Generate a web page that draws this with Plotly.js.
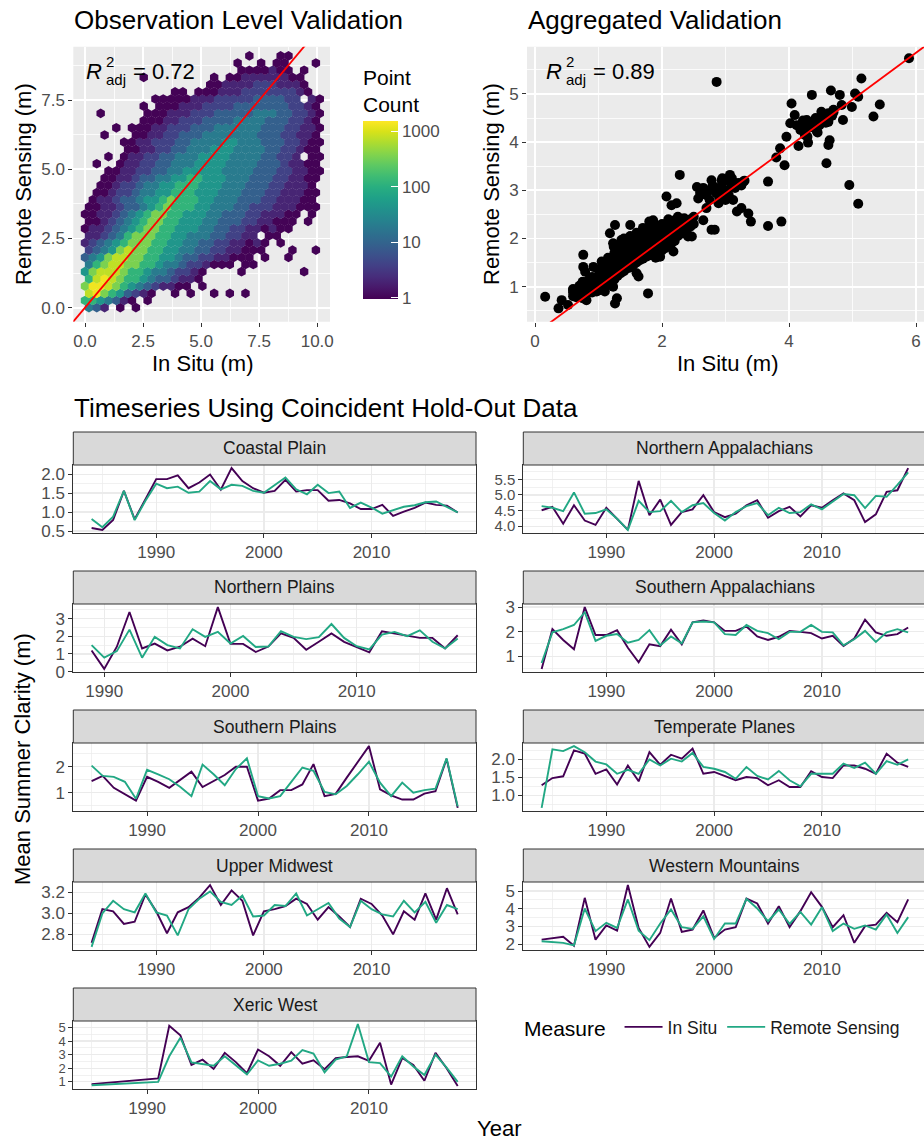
<!DOCTYPE html>
<html>
<head>
<meta charset="utf-8">
<script src="https://cdn.plot.ly/plotly-3.0.1.min.js"></script>
<style>
  html, body { margin: 0; padding: 0; background: #ffffff; }
  #chart { width: 924px; height: 1141px; }
</style>
</head>
<body>
<div id="chart"></div>
<script>
// ---------------- Observation level hexbin ----------------
// One string per hex row (bottom row first); one character per hex cell.
// '.' = empty cell, '1'..'9','A' = point-count class (see hexLevelCounts).
const hexRows = [
  "542.1.1",
  "7765421.1",
  "9A8764321..1.1..1.1.1",
  "8AA98765432211.1",
  "79A987765443221",
  "6899987765543321....1.......1",
  "5789988776554332111.11",
  "4568998877665443322111.1..1",
  "34568988776655443322111...1..1",
  "234567888776655443322121.1",
  "2234578887766555443322.11",
  "122345678877666554433221211",
  "112345678877666554443322111.1",
  "1122345678877666554443322211.1",
  "112234456787776655544333222111",
  ".12234456678777665554443322211",
  ".11233455667776665554443322211",
  "..1123345566777666555444332221",
  "..1122344556677666555444332211",
  "...1122334455666665555444332211",
  ".1..12233445556666555544432211",
  "...1.12233445556666555544332.11",
  ".....1122334455566655554433211",
  ".....11223334455556655544433211",
  "..1...112233444555555544433221",
  "....1.1112233344455555544433221",
  ".......11122333444455554443321",
  "..1.....11122233344444555443321",
  ".......1.111222333344444443321",
  ".........1111122233333444433.21",
  "...........11.111222333333321",
  "................1122223332221",
  ".......1........1.1122222211",
  "....................1111211.1",
  "...................1..1.11...1",
  ".....................1...11"
];
const hexLevelCounts = { '1': 1, '2': 2, '3': 4, '4': 9, '5': 20, '6': 45, '7': 120, '8': 350, '9': 750, 'A': 1300 };
const hexBinWidth = 0.337;   // in-situ bin width (m)
const hexRowStep = 0.26;     // remote-sensing distance between hex rows (m)
const hexOddShift = 0.17;    // horizontal shift of every other row (m)
const obsR2 = "0.72";
const obsFit = { intercept: 0, slope: 1 };

// ---------------- Aggregated validation points ----------------
const aggInSitu = [
  0.16,0.37,0.42,0.52,0.60,0.63,0.76,0.76,0.79,0.81,0.87,0.92,0.97,1.05,1.10,1.18,1.23,1.26,1.24,1.23,
  1.26,1.29,1.36,1.50,1.52,1.60,1.63,1.78,1.86,1.97,2.07,2.15,2.23,2.28,2.18,2.41,2.47,2.55,2.57,2.65,
  2.70,2.78,2.83,2.86,2.78,2.94,2.89,2.97,3.02,3.07,3.12,3.18,3.25,3.28,3.36,3.40,3.67,3.67,3.88,3.80,
  3.86,3.93,3.96,4.04,4.02,4.09,4.15,4.20,4.28,4.29,4.30,4.36,4.38,4.44,4.48,4.51,4.59,4.62,4.64,4.62,
  4.65,4.66,4.70,4.80,4.83,4.85,4.95,4.99,5.04,5.09,5.09,5.14,5.33,5.43,5.89,
  0.60,0.60,0.60,0.65,0.65,0.70,0.70,0.70,0.75,0.75,0.75,0.80,0.80,0.80,0.85,0.85,0.85,
  0.90,0.90,0.90,0.90,0.95,0.95,0.95,1.00,1.00,1.00,1.00,1.00,1.05,1.05,1.05,1.05,
  1.10,1.10,1.10,1.10,1.10,1.15,1.15,1.15,1.15,1.15,1.20,1.20,1.20,1.20,1.20,
  1.25,1.25,1.25,1.25,1.25,1.30,1.30,1.30,1.30,1.30,1.30,1.35,1.35,1.35,1.35,1.35,
  1.40,1.40,1.40,1.40,1.40,1.40,1.45,1.45,1.45,1.45,1.45,1.50,1.50,1.50,1.50,1.50,1.50,
  1.55,1.55,1.55,1.55,1.55,1.60,1.60,1.60,1.60,1.60,1.60,1.65,1.65,1.65,1.65,1.65,
  1.70,1.70,1.70,1.70,1.70,1.70,1.75,1.75,1.75,1.75,1.75,1.80,1.80,1.80,1.80,1.80,1.80,
  1.85,1.85,1.85,1.85,1.85,1.90,1.90,1.90,1.90,1.90,1.90,1.95,1.95,1.95,1.95,1.95,
  2.00,2.00,2.00,2.00,2.00,2.05,2.05,2.05,2.05,2.10,2.10,2.10,2.10,2.10,2.15,2.15,2.15,2.15,
  2.20,2.20,2.20,2.20,2.25,2.25,2.25,2.25,2.30,2.30,2.30,2.35,2.35,2.35,2.40,2.40,2.45,2.45,2.50,2.50,
  2.60,2.65,2.70,2.75,2.80,2.85,2.90,2.95,3.00,3.05,3.10,3.15,3.20,3.25,3.30,2.90,3.00,3.05,2.95,3.10,2.75,
  4.12,4.18,4.22,4.32,4.35,4.40,4.42,4.50,4.55,4.58,4.62,4.68,4.70,4.25,4.45
];
const aggRemote = [
  0.79,0.55,0.72,0.62,0.93,0.83,1.66,1.41,1.31,0.72,1.00,1.41,0.90,1.52,0.90,2.11,1.90,2.28,1.83,1.00,
  0.65,0.76,1.97,2.28,1.97,1.28,1.21,0.86,2.38,1.62,2.87,2.69,2.73,3.32,1.73,2.04,2.04,3.07,2.83,2.38,
  2.63,2.18,2.18,5.25,3.21,3.21,2.73,2.87,2.94,3.32,2.80,2.56,2.63,3.18,2.52,2.35,3.18,2.26,2.35,3.68,
  3.87,3.52,4.11,4.80,4.39,4.56,3.92,4.35,4.46,4.11,3.99,4.98,4.42,4.22,4.35,4.63,3.56,3.94,4.04,4.42,
  4.53,5.07,4.67,4.98,4.77,4.46,3.11,4.73,5.01,4.94,2.72,5.32,4.53,4.78,5.74,
  0.80,0.88,0.95,0.78,0.92,0.82,0.90,1.02,0.76,0.95,1.10,0.85,0.98,1.05,0.90,1.02,1.15,
  0.88,0.97,1.08,1.20,0.95,1.05,1.12,0.92,1.00,1.10,1.22,1.35,1.02,1.15,1.28,1.40,
  0.98,1.08,1.20,1.32,1.45,1.05,1.18,1.30,1.50,1.60,1.12,1.25,1.38,1.48,1.58,
  1.15,1.30,1.42,1.55,1.70,1.22,1.35,1.45,1.62,1.75,1.85,1.28,1.40,1.52,1.68,1.80,
  1.32,1.45,1.58,1.70,1.88,2.00,1.38,1.50,1.62,1.75,1.90,1.40,1.55,1.68,1.80,1.95,2.05,
  1.45,1.58,1.72,1.85,2.00,1.50,1.62,1.75,1.88,2.02,2.12,1.55,1.68,1.80,1.92,2.05,
  1.58,1.70,1.85,1.97,2.10,2.22,1.62,1.75,1.88,2.00,2.15,1.65,1.78,1.92,2.05,2.20,2.35,
  1.70,1.82,1.95,2.08,2.22,1.60,1.75,1.88,2.00,2.12,2.28,1.70,1.85,1.95,2.10,2.25,
  1.75,1.90,2.02,2.15,2.30,1.80,1.95,2.08,2.20,1.85,2.00,2.12,2.25,2.40,1.90,2.05,2.18,2.32,
  1.95,2.10,2.22,2.38,2.05,2.15,2.30,2.45,2.10,2.25,2.40,2.12,2.28,2.42,2.20,2.35,2.25,2.40,2.30,2.45,
  2.95,3.05,2.90,3.00,3.10,2.95,3.05,3.15,3.00,3.20,3.10,3.05,3.15,3.10,3.20,2.85,2.80,2.90,3.25,3.25,2.80,
  4.35,4.25,4.45,4.30,4.40,4.30,4.50,4.45,4.55,4.40,4.60,4.55,4.62,4.15,4.20
];
const aggR2 = "0.89";
const aggFit = { intercept: 0.023, slope: 0.972 };

// ---------------- Regional time series ----------------
const years1984 = [1984,1985,1986,1987,1988,1989,1990,1991,1992,1993,1994,1995,1996,1997,1998,1999,2000,2001,
  2002,2003,2004,2005,2006,2007,2008,2009,2010,2011,2012,2013,2014,2015,2016,2017,2018];
const years1985 = [1985,1986,1987,1988,1989,1990,1991,1992,1993,1994,1995,1996,1997,1998,1999,2000,2001,
  2002,2003,2004,2005,2006,2007,2008,2009,2010,2011,2012,2013,2014,2015,2016,2017,2018];
const years1989 = [1989,1990,1991,1992,1993,1994,1995,1996,1997,1998,1999,2000,2001,
  2002,2003,2004,2005,2006,2007,2008,2009,2010,2011,2012,2013,2014,2015,2016,2017,2018];
const yearsXeric = [1985,1991,1992,1993,1994,1995,1996,1997,1998,1999,2000,2001,
  2002,2003,2004,2005,2006,2007,2008,2009,2010,2011,2012,2013,2014,2015,2016,2017,2018];

const coastalInSitu = [0.58,0.53,0.79,1.56,0.81,1.34,1.87,1.87,1.97,1.63,1.78,1.99,1.59,2.16,1.82,1.63,1.51,1.56,
  1.85,1.54,1.58,1.58,1.30,1.32,1.23,1.08,1.08,1.19,0.90,1.01,1.11,1.25,1.19,1.17,0.99];
const coastalRemote = [0.82,0.60,0.88,1.56,0.79,1.30,1.75,1.63,1.67,1.51,1.54,1.82,1.60,1.72,1.69,1.56,1.51,1.71,
  1.91,1.60,1.47,1.72,1.50,1.54,1.11,1.25,1.12,0.96,1.05,1.14,1.18,1.26,1.28,1.14,0.99];
const nAppInSitu = [4.51,4.62,4.08,4.67,4.18,4.04,4.59,4.24,3.88,5.45,4.35,4.85,4.04,4.45,4.54,4.99,4.45,4.29,
  4.40,4.67,4.83,4.27,4.48,4.62,4.31,4.67,4.59,4.83,5.05,4.83,4.13,4.38,5.10,5.15,5.86];
const nAppRemote = [4.64,4.59,4.48,5.08,4.40,4.42,4.54,4.24,3.88,4.81,4.45,4.48,4.81,4.45,4.67,4.74,4.42,4.18,
  4.45,4.64,4.74,4.35,4.59,4.42,4.45,4.70,4.54,4.78,5.03,4.99,4.58,4.97,4.94,5.32,5.72];
const nPlainsInSitu = [1.20,0.15,1.41,3.38,1.31,1.59,1.20,1.41,1.87,1.44,3.66,1.57,1.57,1.11,1.42,2.17,1.91,1.24,
  1.69,2.16,1.69,1.41,1.09,2.29,2.16,2.01,1.91,1.91,1.31,2.06];
const nPlainsRemote = [1.50,0.79,1.16,2.38,0.79,1.97,1.50,1.31,2.40,1.97,2.25,1.59,2.02,1.39,1.42,2.29,1.97,1.84,
  1.95,2.70,1.91,1.44,1.26,2.10,2.25,2.01,2.34,1.69,1.31,1.87];
const sAppInSitu = [0.48,2.10,1.66,1.28,3.00,1.86,1.86,2.06,1.34,0.75,1.48,1.41,2.08,1.48,2.38,2.45,2.38,2.03,
  2.03,2.21,1.80,1.66,1.79,2.03,1.99,1.94,1.72,1.83,1.41,1.72,2.49,1.97,1.83,1.90,2.17];
const sAppRemote = [0.72,1.97,2.10,2.27,2.79,1.62,1.83,1.90,1.55,1.66,2.06,1.44,1.80,1.52,2.38,2.41,2.38,1.90,
  1.86,2.27,2.03,1.94,1.69,1.99,1.99,2.27,1.99,1.97,1.44,1.69,2.03,1.58,1.97,2.10,1.97];
const sPlainsInSitu = [1.45,1.65,1.19,0.94,0.70,1.61,1.42,1.19,1.49,1.81,1.22,1.45,1.68,2.00,2.00,0.70,0.78,
  1.10,1.10,1.32,2.10,0.87,0.96,1.58,2.17,2.79,1.13,0.90,0.74,0.74,0.97,1.06,2.30,0.42];
const sPlainsRemote = [2.04,1.65,1.61,1.42,0.77,1.88,1.71,1.52,1.22,0.87,2.08,1.71,1.29,1.91,2.32,0.87,0.78,
  0.87,1.42,1.97,1.84,1.03,0.94,1.26,1.71,2.19,1.39,0.87,1.39,1.00,1.10,1.16,2.32,0.48];
const tempInSitu = [1.28,1.48,1.53,2.25,2.16,1.60,1.72,1.30,1.83,1.39,2.20,1.85,2.13,2.02,2.30,1.60,1.65,1.53,
  1.42,1.51,1.48,1.28,1.42,1.23,1.23,1.67,1.51,1.48,1.83,1.83,1.74,1.60,2.16,1.91,1.79];
const tempRemote = [0.65,2.28,2.23,2.37,2.20,1.94,1.86,1.60,1.71,1.60,2.00,1.83,2.02,1.94,2.18,1.79,1.74,1.65,
  1.46,1.79,1.54,1.44,1.68,1.42,1.25,1.60,1.60,1.60,1.88,1.76,1.91,1.60,1.95,1.85,2.00];
const umInSitu = [2.72,3.04,3.02,2.90,2.92,3.18,3.02,2.81,3.01,3.06,3.15,3.27,3.08,3.22,3.12,2.79,3.02,3.04,
  3.07,3.14,3.09,2.94,3.06,2.97,2.87,3.14,3.09,2.98,2.80,3.02,2.94,3.19,2.94,3.24,2.99];
const umRemote = [2.68,3.00,3.12,3.04,3.01,3.19,3.01,2.98,2.79,3.04,3.14,3.21,3.11,3.08,3.17,2.97,2.98,3.08,
  3.07,3.19,2.98,3.04,3.10,2.95,2.87,3.12,3.04,2.99,2.97,3.12,3.01,3.11,2.91,3.08,3.04];
const wmInSitu = [2.26,2.32,2.42,1.92,4.62,2.26,3.06,2.77,5.34,2.92,1.85,2.64,4.58,2.70,2.83,3.91,2.36,2.83,
  2.96,4.58,4.30,3.17,4.15,2.96,3.87,4.94,4.11,2.96,3.64,2.08,3.02,3.11,3.77,3.25,4.53];
const wmRemote = [2.17,2.11,2.08,1.94,4.02,2.74,3.21,2.92,4.53,2.77,2.23,3.17,3.96,2.96,2.87,3.58,2.30,3.17,
  3.17,4.57,4.02,3.30,3.96,3.15,3.83,3.11,4.09,2.74,3.17,2.87,3.06,2.83,3.68,2.64,3.53];
const xericInSitu = [0.83,1.25,5.13,4.43,2.25,2.63,1.95,3.13,2.45,1.63,3.38,2.88,2.18,3.18,2.33,2.58,1.93,2.75,
  2.83,2.88,2.55,3.88,0.80,2.75,2.25,1.08,3.13,2.00,0.70];
const xericRemote = [0.75,1.00,2.88,4.25,2.43,2.33,2.18,2.88,2.25,1.55,2.58,2.18,2.33,2.55,3.33,3.08,1.70,2.63,
  2.88,5.25,2.45,2.38,1.38,2.88,2.13,1.50,3.00,2.05,1.00];

const regionNames = ["Coastal Plain", "Northern Appalachians", "Northern Plains", "Southern Appalachians",
  "Southern Plains", "Temperate Planes", "Upper Midwest", "Western Mountains", "Xeric West"];
const regionYears = [years1984, years1984, years1989, years1984, years1985, years1984, years1984, years1984, yearsXeric];
const regionInSitu = [coastalInSitu, nAppInSitu, nPlainsInSitu, sAppInSitu, sPlainsInSitu, tempInSitu, umInSitu, wmInSitu, xericInSitu];
const regionRemote = [coastalRemote, nAppRemote, nPlainsRemote, sAppRemote, sPlainsRemote, tempRemote, umRemote, wmRemote, xericRemote];
// y-axis break start and step per region
const regionTick0 = [0.5, 4.0, 0, 1, 1, 1.0, 2.8, 2, 1];
const regionTickStep = [0.5, 0.5, 1, 1, 1, 0.5, 0.2, 1, 1];
const regionTickFormat = [".1f", ".1f", "d", "d", "d", ".1f", ".1f", "d", "d"];
const measureNames = ["In Situ", "Remote Sensing"];

// ---------------- Page geometry and styles ----------------
const W = 924, H = 1141;
const fx = v => v / W;
const fy = v => 1 - v / H;
const FONT = "Liberation Sans, Arial, Helvetica, sans-serif";
const PURPLE = "#440154", GREEN = "#22a884";
const TICK_GRAY = "#4d4d4d", DARK = "#333333";

const colEdges = [[73.3, 476], [523.3, 926.5]];
const facetTop0 = 432, facetRowStep = 139, stripH = 33, facetH = 101;
const panelH = facetH - stripH;

const traces = [];
const shapes = [];
const annotations = [];

function ann(text, x, y, opts) {
  annotations.push(Object.assign({
    text: text, xref: "paper", yref: "paper", x: fx(x), y: fy(y),
    xanchor: "center", yanchor: "middle", showarrow: false,
    font: { family: FONT, size: 22, color: "#000000" }
  }, opts || {}));
}

// ----- hexbin trace -----
const hx = [], hy = [], hc = [], hn = [];
hexRows.forEach((row, j) => {
  for (let i = 0; i < row.length; i++) {
    const ch = row[i];
    if (ch === '.') continue;
    const n = hexLevelCounts[ch];
    hx.push(i * hexBinWidth + (j % 2 === 0 ? hexOddShift : 0));
    hy.push(j * hexRowStep);
    hc.push(Math.log10(n));
    hn.push(n);
  }
});
traces.push({
  type: "scatter", mode: "markers", x: hx, y: hy, xaxis: "x", yaxis: "y",
  showlegend: false, customdata: hn,
  marker: {
    symbol: "hexagon", size: 9.7, color: hc, colorscale: "Viridis", cmin: -0.02, cmax: 3.18,
    line: { width: 0 },
    colorbar: {
      x: fx(363), xanchor: "left", y: fy(66), yanchor: "top",
      len: 233, lenmode: "pixels", thickness: 35, thicknessmode: "pixels",
      xpad: 0, ypad: 0, outlinewidth: 0,
      tickmode: "array", tickvals: [0, 1, 2, 3], ticktext: ["1", "10", "100", "1000"],
      ticks: "inside", ticklen: 7, tickcolor: "#ffffff", tickwidth: 1,
      tickfont: { family: FONT, size: 17, color: TICK_GRAY },
      title: { text: "Point<br>Count", side: "top", font: { family: FONT, size: 21, color: "#000000" } }
    }
  }
});
const obsLineX = [-1, 11];
traces.push({
  type: "scatter", mode: "lines", xaxis: "x", yaxis: "y", showlegend: false,
  x: obsLineX, y: obsLineX.map(v => obsFit.intercept + obsFit.slope * v),
  line: { color: "#ff0000", width: 1.8 }
});

// ----- aggregated scatter -----
traces.push({
  type: "scatter", mode: "markers", x: aggInSitu, y: aggRemote, xaxis: "x2", yaxis: "y2",
  showlegend: false, marker: { color: "#000000", size: 10, line: { width: 0 } }
});
const aggLineX = [-0.5, 6.5];
traces.push({
  type: "scatter", mode: "lines", xaxis: "x2", yaxis: "y2", showlegend: false,
  x: aggLineX, y: aggLineX.map(v => aggFit.intercept + aggFit.slope * v),
  line: { color: "#ff0000", width: 1.8 }
});

// ----- layout axes for the two validation panels -----
const topY0 = 46.7, topY1 = 321.7;
const layout = {
  width: W, height: H,
  margin: { l: 0, r: 0, t: 0, b: 0 },
  paper_bgcolor: "#ffffff",
  plot_bgcolor: "rgba(0,0,0,0)",
  font: { family: FONT, color: "#000000" },
  showlegend: true,
  legend: {
    orientation: "h", x: fx(522), xanchor: "left", y: fy(1028), yanchor: "middle",
    bgcolor: "rgba(0,0,0,0)", font: { family: FONT, size: 17.5, color: "#1a1a1a" },
    title: { text: "Measure ", side: "left", font: { family: FONT, size: 21, color: "#000000" } },
    itemwidth: 38, tracegroupgap: 0
  }
};

function topAxis(domain, range, tick0, dtick, fmt, minorStep) {
  return {
    domain: domain, range: range, autorange: false,
    tickmode: "linear", tick0: tick0, dtick: dtick, tickformat: fmt,
    ticks: "outside", ticklen: 4, tickwidth: 1, tickcolor: DARK,
    tickfont: { family: FONT, size: 17, color: TICK_GRAY },
    showgrid: true, gridcolor: "#ffffff", gridwidth: 1.7,
    minor: { tick0: tick0, dtick: minorStep, showgrid: true, gridcolor: "#ffffff", gridwidth: 0.8 },
    zeroline: false, showline: false, fixedrange: true
  };
}
layout.xaxis = topAxis([fx(73.3), fx(330)], [-0.504, 10.55], 0, 2.5, ".1f", 1.25);
layout.yaxis = topAxis([fy(topY1), fy(topY0)], [-0.506, 9.43], 0, 2.5, ".1f", 1.25);
layout.xaxis2 = topAxis([fx(527), 1], [-0.126, 6.126], 0, 2, "d", 1);
layout.yaxis2 = topAxis([fy(topY1), fy(topY0)], [0.273, 5.98], 1, 1, "d", 0.5);
layout.xaxis.anchor = "y"; layout.yaxis.anchor = "x";
layout.xaxis2.anchor = "y2"; layout.yaxis2.anchor = "x2";

// grey panel backgrounds
[[73.3, 330], [527, 924]].forEach(([l, r]) => {
  shapes.push({ type: "rect", xref: "paper", yref: "paper", layer: "below",
    x0: fx(l), x1: fx(r), y0: fy(topY1), y1: fy(topY0),
    fillcolor: "#ebebeb", line: { width: 0 } });
});

// ----- facets -----
regionNames.forEach((name, f) => {
  const col = f % 2, row = Math.floor(f / 2);
  const ax = f + 3;
  const top = facetTop0 + row * facetRowStep;
  const [left, right] = colEdges[col];
  const yrs = regionYears[f];
  const all = regionInSitu[f].concat(regionRemote[f]);
  const ymin = Math.min(...all), ymax = Math.max(...all);
  const yspan = ymax - ymin;
  const ylo = ymin - 0.05 * yspan, yhi = ymax + 0.05 * yspan;
  const xmin = Math.min(...yrs), xmax = Math.max(...yrs);
  const xspan = xmax - xmin;
  const xlo = xmin - 0.05 * xspan, xhiFull = xmax + 0.05 * xspan;
  const visRight = Math.min(right, W);
  const xhi = xlo + (xhiFull - xlo) * (visRight - left) / (right - left);
  // closely spaced y breaks get a label size that keeps neighbouring labels apart
  const breakPx = regionTickStep[f] * panelH / (yhi - ylo);
  const yTickSize = Math.min(17, Math.floor(breakPx - 0.5));

  layout["xaxis" + ax] = {
    domain: [fx(left), fx(visRight)], range: [xlo, xhi], autorange: false, anchor: "y" + ax,
    tickmode: "linear", tick0: 1990, dtick: 10,
    ticks: "outside", ticklen: 4, tickwidth: 1, tickcolor: DARK,
    tickfont: { family: FONT, size: 17, color: TICK_GRAY },
    showgrid: true, gridcolor: "#ebebeb", gridwidth: 1.3,
    minor: { tick0: 1985, dtick: 5, showgrid: true, gridcolor: "#ebebeb", gridwidth: 0.7 },
    showline: true, linecolor: DARK, linewidth: 1, mirror: true, zeroline: false, fixedrange: true
  };
  layout["yaxis" + ax] = {
    domain: [fy(top + facetH), fy(top + stripH)],
    range: [ylo, yhi], autorange: false, anchor: "x" + ax,
    tickmode: "linear", tick0: regionTick0[f], dtick: regionTickStep[f], tickformat: regionTickFormat[f],
    ticks: "outside", ticklen: 4, tickwidth: 1, tickcolor: DARK,
    tickfont: { family: FONT, size: yTickSize, color: TICK_GRAY },
    showgrid: true, gridcolor: "#ebebeb", gridwidth: 1.3,
    minor: { tick0: regionTick0[f], dtick: regionTickStep[f] / 2, showgrid: true, gridcolor: "#ebebeb", gridwidth: 0.7 },
    showline: true, linecolor: DARK, linewidth: 1, mirror: true, zeroline: false, fixedrange: true
  };

  [regionInSitu[f], regionRemote[f]].forEach((vals, m) => {
    traces.push({
      type: "scatter", mode: "lines", x: yrs, y: vals,
      xaxis: "x" + ax, yaxis: "y" + ax,
      name: measureNames[m], legendgroup: measureNames[m], showlegend: f === 0,
      line: { color: m === 0 ? PURPLE : GREEN, width: 1.9 }
    });
  });

  // strip
  shapes.push({ type: "rect", xref: "paper", yref: "paper", layer: "above",
    x0: fx(left), x1: fx(Math.min(right, W + 2)), y0: fy(top + stripH), y1: fy(top),
    fillcolor: "#d9d9d9", line: { color: DARK, width: 1 } });
  ann(name, (left + right) / 2, top + stripH / 2,
    { font: { family: FONT, size: 17.5, color: "#1a1a1a" } });
});

// ----- titles -----
ann("Observation Level Validation", 72, 20, { xanchor: "left", font: { family: FONT, size: 26, color: "#000000" } });
ann("Aggregated Validation", 526, 20, { xanchor: "left", font: { family: FONT, size: 26, color: "#000000" } });
ann("Timeseries Using Coincident Hold-Out Data", 72, 408, { xanchor: "left", font: { family: FONT, size: 26, color: "#000000" } });
ann("In Situ (m)", 202, 364);
ann("Remote Sensing (m)", 23, 184, { textangle: -90 });
ann("In Situ (m)", 727, 364);
ann("Remote Sensing (m)", 491, 184, { textangle: -90 });
ann("Mean Summer Clarity (m)", 22, 759, { textangle: -90 });
ann("Year", 499, 1128);

// adjusted R-squared labels
function r2Label(xLeft, value) {
  ann("<i>R</i>", xLeft + 8, 71, { font: { family: FONT, size: 22, color: "#000000" } });
  ann("2", xLeft + 24, 62, { font: { family: FONT, size: 15, color: "#000000" } });
  ann("adj", xLeft + 18, 79, { xanchor: "left", font: { family: FONT, size: 15, color: "#000000" } });
  ann("= " + value, xLeft + 45, 71, { xanchor: "left", font: { family: FONT, size: 22, color: "#000000" } });
}
r2Label(86, obsR2);
r2Label(546, aggR2);

layout.shapes = shapes;
layout.annotations = annotations;

Plotly.newPlot("chart", traces, layout, { staticPlot: true, displayModeBar: false });
</script>
</body>
</html>
